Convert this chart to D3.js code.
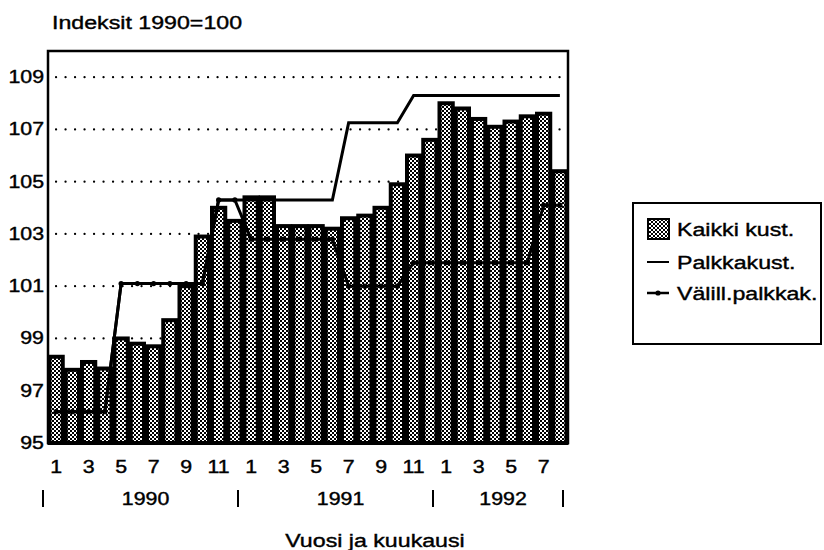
<!DOCTYPE html>
<html>
<head>
<meta charset="utf-8">
<script src="https://cdn.jsdelivr.net/npm/d3@7"></script>
<style>
  body { margin: 0; background: #fff; }
  svg text { font-family: "Liberation Sans", Arial, sans-serif; fill: #000; stroke: #000; stroke-width: 0.4px; }
</style>
</head>
<body>
<svg id="chart" width="824" height="550"></svg>
<script>
// month labels per bar, 1990-1 .. 1992-8
const years = ["1990", "1991", "1992"];
const monthsPerYear = [12, 12, 8];
const categories = [];
years.forEach((yr, i) => {
  for (let m = 1; m <= monthsPerYear[i]; m++) categories.push(yr + "-" + m);
});

// Kaikki kust. (bars)
const kaikki = [98.3, 97.8, 98.1, 97.85, 99.0, 98.8, 98.7, 99.7, 101.0, 102.9, 104.0, 103.5,
                104.4, 104.4, 103.3, 103.3, 103.3, 103.2, 103.6, 103.7, 104.0, 104.9, 106.0, 106.6,
                108.0, 107.8, 107.4, 107.1, 107.3, 107.5, 107.6, 105.4];
// Palkkakust. (solid line)
const palkka = [96.2, 96.2, 96.2, 96.2, 101.1, 101.1, 101.1, 101.1, 101.1, 101.1, 104.3, 104.3,
                104.3, 104.3, 104.3, 104.3, 104.3, 104.3, 107.25, 107.25, 107.25, 107.25, 108.3, 108.3,
                108.3, 108.3, 108.3, 108.3, 108.3, 108.3, 108.3, 108.3];
// Välill.palkkak. (line with dots)
const valill = [96.2, 96.2, 96.2, 96.2, 101.1, 101.1, 101.1, 101.1, 101.1, 101.1, 104.3, 104.3,
                102.8, 102.8, 102.8, 102.8, 102.8, 102.8, 101.0, 101.0, 101.0, 101.0, 101.9, 101.9,
                101.9, 101.9, 101.9, 101.9, 101.9, 101.9, 104.1, 104.1];

const yTicks = [95, 97, 99, 101, 103, 105, 107, 109];
const gridTicks = [97, 99, 101, 103, 105, 107, 109];
const legendLabels = ["Kaikki kust.", "Palkkakust.", "Välill.palkkak."];

const SX = 1.22; // scanned text is wide
const svg = d3.select("#chart");

function txt(g, x, y, s, anchor, size) {
  return g.append("text")
    .attr("transform", `translate(${x},${y}) scale(${SX},1)`)
    .attr("text-anchor", anchor || "start")
    .style("font-size", (size || 17) + "px")
    .text(s);
}

// checker fill
const defs = svg.append("defs");
const pat = defs.append("pattern")
  .attr("id", "checker")
  .attr("patternUnits", "userSpaceOnUse")
  .attr("width", 4).attr("height", 4);
pat.append("rect").attr("width", 4).attr("height", 4).attr("fill", "#fff");
pat.append("rect").attr("x", 0).attr("y", 0).attr("width", 2).attr("height", 2).attr("fill", "#000");
pat.append("rect").attr("x", 2).attr("y", 2).attr("width", 2).attr("height", 2).attr("fill", "#000");

const pLeft = 48, pRight = 568, pTop = 51, pBottom = 443;

const x = d3.scaleBand()
  .domain(categories)
  .range([pLeft, pRight])
  .padding(0);

const y = d3.scaleLinear()
  .domain([95, 110])
  .range([pBottom, pTop]);

const cx = d => x(d) + x.bandwidth() / 2;

// title
txt(svg, 52, 29, "Indeksit 1990=100", "start", 19);

// dotted grid
svg.append("g")
  .selectAll("line")
  .data(gridTicks)
  .enter().append("line")
  .attr("x1", pLeft + 8)
  .attr("x2", pRight)
  .attr("y1", d => y(d))
  .attr("y2", d => y(d))
  .attr("stroke", "#000")
  .attr("stroke-width", 2.2)
  .attr("stroke-linecap", "round")
  .attr("stroke-dasharray", "0.1,9.4");

// bars
const gap = 3;
svg.append("g")
  .selectAll(".bar")
  .data(kaikki)
  .enter().append("rect")
  .attr("class", "bar")
  .attr("x", (d, i) => x(categories[i]) + gap / 2)
  .attr("y", d => y(d))
  .attr("width", x.bandwidth() - gap)
  .attr("height", d => y(95) - y(d))
  .attr("fill", "url(#checker)")
  .attr("stroke", "#000")
  .attr("stroke-width", 4);

// Palkkakust. line
const line = d3.line()
  .x((d, i) => cx(categories[i]))
  .y(d => y(d));

svg.append("path")
  .datum(palkka)
  .attr("d", line)
  .attr("fill", "none")
  .attr("stroke", "#000")
  .attr("stroke-width", 3);

// Välill.palkkak. line
svg.append("path")
  .datum(valill)
  .attr("d", line)
  .attr("fill", "none")
  .attr("stroke", "#000")
  .attr("stroke-width", 3);

svg.append("g")
  .selectAll("circle")
  .data(valill)
  .enter().append("circle")
  .attr("cx", (d, i) => cx(categories[i]))
  .attr("cy", d => y(d))
  .attr("r", 2.6)
  .attr("fill", "#000");

// frame
svg.append("rect")
  .attr("x", pLeft).attr("y", pTop)
  .attr("width", pRight - pLeft).attr("height", pBottom - pTop)
  .attr("fill", "none")
  .attr("stroke", "#000")
  .attr("stroke-width", 2.5);

// y tick labels
yTicks.forEach(t => txt(svg, 44, y(t) + 6, t, "end", 17.5));

// month labels (odd months)
categories.forEach((c, i) => {
  const m = +c.split("-")[1];
  if (m % 2 === 1) txt(svg, cx(c), 473, m, "middle", 17.5);
});

// year row
let start = 0;
years.forEach((yr, i) => {
  const first = categories[start];
  const last = categories[start + monthsPerYear[i] - 1];
  const x0 = x(first), x1 = x(last) + x.bandwidth();
  txt(svg, (x0 + x1) / 2, 505, yr, "middle", 17.5);
  start += monthsPerYear[i];
});
const seps = [0, 12, 24, 32];
svg.append("g")
  .selectAll("line")
  .data(seps)
  .enter().append("line")
  .attr("x1", d => (d < categories.length ? x(categories[d]) : pRight) - 5)
  .attr("x2", d => (d < categories.length ? x(categories[d]) : pRight) - 5)
  .attr("y1", 490).attr("y2", 507)
  .attr("stroke", "#000")
  .attr("stroke-width", 2);

// x axis title
txt(svg, 375, 547, "Vuosi ja kuukausi", "middle", 19);

// legend
const lg = svg.append("g").attr("transform", "translate(633,203)");
lg.append("rect")
  .attr("width", 188).attr("height", 141)
  .attr("fill", "#fff")
  .attr("stroke", "#000")
  .attr("stroke-width", 2);
const rowY = [26, 59, 90];
lg.append("rect")
  .attr("x", 15).attr("y", rowY[0] - 10)
  .attr("width", 21).attr("height", 20)
  .attr("fill", "url(#checker)")
  .attr("stroke", "#000").attr("stroke-width", 2);
lg.append("line")
  .attr("x1", 14).attr("x2", 36)
  .attr("y1", rowY[1]).attr("y2", rowY[1])
  .attr("stroke", "#000").attr("stroke-width", 2);
lg.append("line")
  .attr("x1", 14).attr("x2", 36)
  .attr("y1", rowY[2]).attr("y2", rowY[2])
  .attr("stroke", "#000").attr("stroke-width", 2.5);
lg.append("circle")
  .attr("cx", 25).attr("cy", rowY[2]).attr("r", 2.6).attr("fill", "#000");
legendLabels.forEach((s, i) => txt(lg, 44, rowY[i] + 7, s, "start", 19));
</script>
</body>
</html>
